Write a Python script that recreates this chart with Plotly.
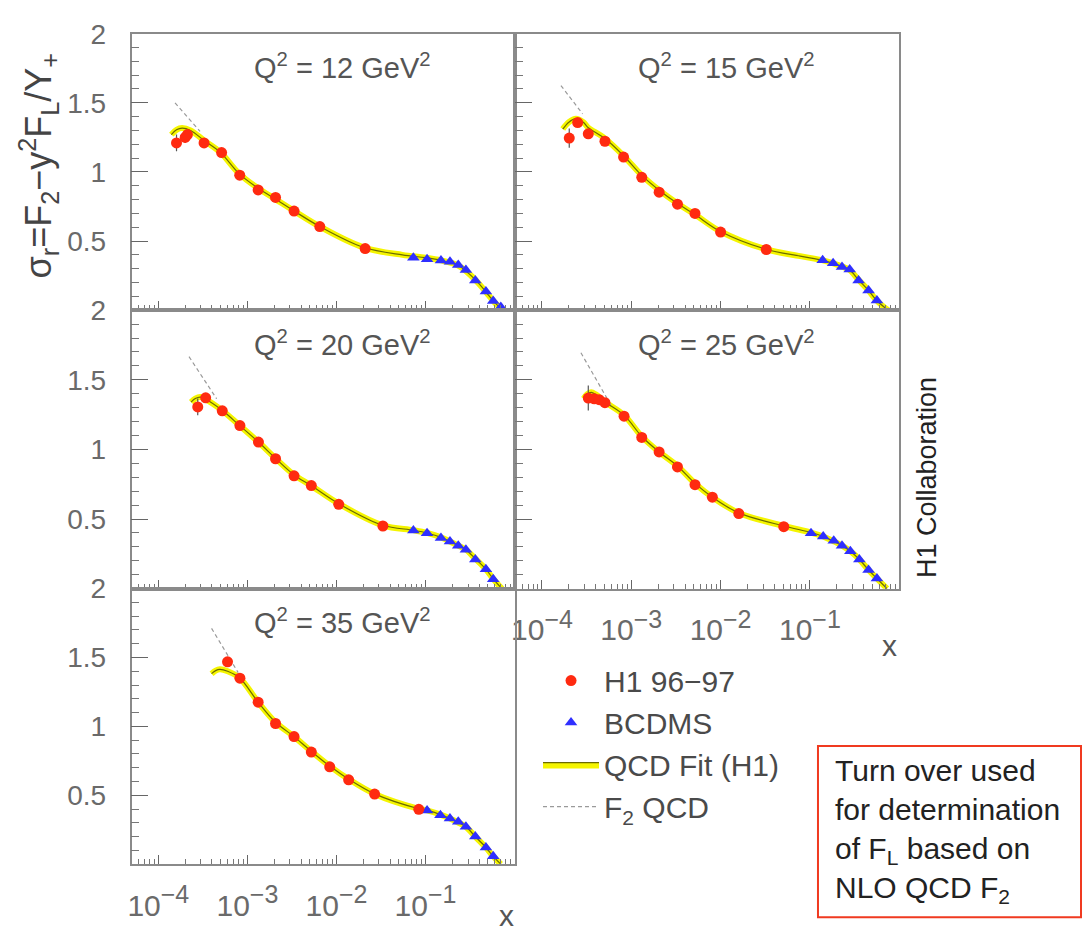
import plotly.graph_objects as go

W, H = 1083, 935
FONT = "Liberation Sans, Arial, Helvetica, sans-serif"

# ---------------- data: Q^2 = 12 GeV^2 ----------------
h1_x_q12 = [1.60e-4, 2.00e-4, 2.12e-4, 3.26e-4, 5.13e-4, 8.2e-4, 1.32e-3, 2.07e-3, 3.34e-3, 6.5e-3, 2.1e-2]
h1_y_q12 = [1.21, 1.25, 1.27, 1.21, 1.14, 0.977, 0.87, 0.816, 0.717, 0.605, 0.446]
h1_e_q12 = [0.06, 0.04, 0.03, 0.02, 0.02, 0.02, 0.02, 0.02, 0.02, 0.02, 0.02]
bc_x_q12 = [0.073, 0.104, 0.149, 0.188, 0.233, 0.284, 0.362, 0.476, 0.575, 0.70]
bc_y_q12 = [0.38, 0.368, 0.36, 0.351, 0.327, 0.29, 0.214, 0.135, 0.066, 0.023]
fit_x_q12 = [1.40e-4, 1.60e-4, 1.85e-4, 2.3e-4, 3.3e-4, 5.0e-4, 8.0e-4, 1.3e-3, 2.1e-3, 3.3e-3,
             6.5e-3, 2.0e-2, 5.5e-2, 0.10, 0.15, 0.23, 0.30, 0.40, 0.50, 0.60, 0.74]
fit_y_q12 = [1.27, 1.305, 1.317, 1.30, 1.225, 1.14, 0.99, 0.885, 0.80, 0.72,
             0.605, 0.455, 0.40, 0.38, 0.36, 0.325, 0.27, 0.19, 0.115, 0.055, 0.0]
f2_x_q12 = [1.54e-4, 2.94e-4]
f2_y_q12 = [1.50, 1.293]

# ---------------- data: Q^2 = 15 GeV^2 ----------------
h1_x_q15 = [2.02e-4, 2.51e-4, 3.3e-4, 5.07e-4, 8.2e-4, 1.31e-3, 2.05e-3, 3.29e-3, 5.17e-3, 1.0e-2, 3.25e-2]
h1_y_q15 = [1.245, 1.357, 1.276, 1.222, 1.108, 0.961, 0.854, 0.767, 0.70, 0.565, 0.439]
h1_e_q15 = [0.07, 0.03, 0.03, 0.02, 0.02, 0.02, 0.02, 0.02, 0.02, 0.02, 0.02]
bc_x_q15 = [0.139, 0.182, 0.229, 0.279, 0.351, 0.454, 0.563]
bc_y_q15 = [0.361, 0.34, 0.313, 0.294, 0.214, 0.142, 0.071]
fit_x_q15 = [1.71e-4, 2.0e-4, 2.4e-4, 2.9e-4, 3.3e-4, 5.0e-4, 8.2e-4, 1.31e-3, 2.05e-3, 3.3e-3, 5.2e-3,
             1.0e-2, 3.2e-2, 7.8e-2, 0.14, 0.18, 0.23, 0.28, 0.35, 0.45, 0.56, 0.75]
fit_y_q15 = [1.31, 1.36, 1.385, 1.36, 1.32, 1.245, 1.117, 0.975, 0.868, 0.771, 0.69,
             0.569, 0.441, 0.391, 0.36, 0.34, 0.315, 0.29, 0.22, 0.145, 0.07, 0.0]
f2_x_q15 = [1.63e-4, 2.85e-4]
f2_y_q15 = [1.625, 1.42]

# ---------------- data: Q^2 = 20 GeV^2 ----------------
h1_x_q20 = [2.77e-4, 3.40e-4, 5.22e-4, 8.24e-4, 1.33e-3, 2.07e-3, 3.34e-3, 5.22e-3, 1.06e-2, 3.32e-2]
h1_y_q20 = [1.305, 1.371, 1.277, 1.171, 1.053, 0.933, 0.81, 0.74, 0.606, 0.45]
h1_e_q20 = [0.06, 0.03, 0.02, 0.02, 0.02, 0.02, 0.02, 0.02, 0.02, 0.02]
bc_x_q20 = [0.073, 0.104, 0.149, 0.188, 0.233, 0.284, 0.362, 0.476, 0.575]
bc_y_q20 = [0.417, 0.398, 0.363, 0.339, 0.309, 0.28, 0.21, 0.139, 0.068]
fit_x_q20 = [2.33e-4, 2.6e-4, 2.95e-4, 3.4e-4, 5.2e-4, 8.2e-4, 1.33e-3, 2.07e-3, 3.34e-3, 5.2e-3, 1.06e-2,
             3.3e-2, 7.3e-2, 0.104, 0.149, 0.188, 0.233, 0.284, 0.362, 0.476, 0.575, 0.72]
fit_y_q20 = [1.34, 1.365, 1.376, 1.36, 1.281, 1.171, 1.053, 0.936, 0.817, 0.74, 0.61,
             0.455, 0.42, 0.40, 0.368, 0.339, 0.309, 0.28, 0.215, 0.14, 0.07, 0.0]
f2_x_q20 = [2.21e-4, 4.51e-4]
f2_y_q20 = [1.666, 1.364]

# ---------------- data: Q^2 = 25 GeV^2 ----------------
h1_x_q25 = [3.30e-4, 3.85e-4, 4.37e-4, 5.07e-4, 8.3e-4, 1.31e-3, 2.05e-3, 3.29e-3, 5.17e-3, 8.09e-3, 1.60e-2, 5.1e-2]
h1_y_q25 = [1.369, 1.364, 1.357, 1.336, 1.239, 1.086, 0.982, 0.874, 0.747, 0.657, 0.539, 0.445]
h1_e_q25 = [0.09, 0.03, 0.03, 0.02, 0.02, 0.02, 0.02, 0.02, 0.02, 0.02, 0.02, 0.02]
bc_x_q25 = [0.103, 0.141, 0.185, 0.229, 0.284, 0.358, 0.454, 0.563]
bc_y_q25 = [0.398, 0.375, 0.344, 0.309, 0.269, 0.21, 0.134, 0.073]
fit_x_q25 = [2.93e-4, 3.2e-4, 3.55e-4, 4.0e-4, 5.07e-4, 8.3e-4, 1.31e-3, 2.05e-3, 3.29e-3, 5.17e-3, 8.1e-3,
             1.6e-2, 5.1e-2, 0.103, 0.141, 0.185, 0.229, 0.284, 0.358, 0.454, 0.563, 0.73]
fit_y_q25 = [1.364, 1.395, 1.41, 1.395, 1.341, 1.246, 1.093, 0.982, 0.881, 0.756, 0.657,
             0.544, 0.45, 0.403, 0.375, 0.34, 0.309, 0.269, 0.21, 0.134, 0.073, 0.0]
f2_x_q25 = [2.73e-4, 5.92e-4]
f2_y_q25 = [1.694, 1.317]

# ---------------- data: Q^2 = 35 GeV^2 ----------------
h1_x_q35 = [5.98e-4, 8.24e-4, 1.32e-3, 2.07e-3, 3.34e-3, 5.22e-3, 8.4e-3, 1.37e-2, 2.68e-2, 8.4e-2]
h1_y_q35 = [1.469, 1.35, 1.176, 1.021, 0.926, 0.814, 0.707, 0.612, 0.509, 0.398]
h1_e_q35 = [0.03, 0.02, 0.02, 0.02, 0.02, 0.02, 0.02, 0.02, 0.02, 0.02]
bc_x_q35 = [0.104, 0.147, 0.188, 0.233, 0.284, 0.362, 0.476, 0.575]
bc_y_q35 = [0.39, 0.355, 0.331, 0.307, 0.271, 0.20, 0.121, 0.057]
fit_x_q35 = [3.96e-4, 4.4e-4, 4.9e-4, 6.0e-4, 8.24e-4, 1.32e-3, 2.07e-3, 3.34e-3, 5.22e-3, 8.4e-3, 1.37e-2,
             2.68e-2, 8.4e-2, 0.104, 0.147, 0.188, 0.233, 0.284, 0.362, 0.476, 0.575, 0.70]
fit_y_q35 = [1.383, 1.405, 1.414, 1.40, 1.35, 1.176, 1.03, 0.926, 0.819, 0.712, 0.617,
             0.51, 0.402, 0.39, 0.36, 0.331, 0.302, 0.271, 0.20, 0.121, 0.057, 0.0]
f2_x_q35 = [3.96e-4, 7.88e-4]
f2_y_q35 = [1.712, 1.39]

q2_labels = ["12", "15", "20", "25", "35"]
x_tick_vals = [1e-4, 1e-3, 1e-2, 1e-1]
x_tick_exps = ["\u22124", "\u22123", "\u22122", "\u22121"]
y_tick_vals = [0.5, 1.0, 1.5, 2.0]
y_tick_text = ["0.5", "1", "1.5", "2"]

# decade labels with a slightly enlarged exponent
x_tick_text = ['10<sup><span style="font-size:25px">' + e + '</span></sup>' for e in x_tick_exps]

panels = [
    (h1_x_q12, h1_y_q12, h1_e_q12, bc_x_q12, bc_y_q12, fit_x_q12, fit_y_q12, f2_x_q12, f2_y_q12),
    (h1_x_q15, h1_y_q15, h1_e_q15, bc_x_q15, bc_y_q15, fit_x_q15, fit_y_q15, f2_x_q15, f2_y_q15),
    (h1_x_q20, h1_y_q20, h1_e_q20, bc_x_q20, bc_y_q20, fit_x_q20, fit_y_q20, f2_x_q20, f2_y_q20),
    (h1_x_q25, h1_y_q25, h1_e_q25, bc_x_q25, bc_y_q25, fit_x_q25, fit_y_q25, f2_x_q25, f2_y_q25),
    (h1_x_q35, h1_y_q35, h1_e_q35, bc_x_q35, bc_y_q35, fit_x_q35, fit_y_q35, f2_x_q35, f2_y_q35),
]

# ---------------- layout geometry (pixels) ----------------
col_px = [(128, 512.5), (513, 898.5)]
row_px = [(19, 300), (300, 583), (583, 863)]
panel_pos = [(0, 0), (0, 1), (1, 0), (1, 1), (2, 0)]   # (row, col)


def fx(px):
    return px / W


def fy(py):
    return 1 - py / H


RED = "#ff2a10"
BLUE = "#2f2fff"
YELLOW = "#f5f500"
OLIVE = "#6b6b00"
AXIS = "#8a8a8a"
TXT = "#555555"

fig = go.Figure()
layout_axes = {}
annotations = []

for i, (hx, hy, he, bx, by, fxs, fys, f2x, f2y) in enumerate(panels):
    n = "" if i == 0 else str(i + 1)
    xa, ya = "x" + n, "y" + n
    first = i == 0
    # fit band (broad yellow stroke)
    fig.add_trace(go.Scatter(
        x=fxs, y=fys, xaxis=xa, yaxis=ya, mode="lines",
        line=dict(color=YELLOW, width=6, shape="spline"),
        showlegend=False, legendgroup="fit", hoverinfo="skip"))
    # fit central value
    fig.add_trace(go.Scatter(
        x=fxs, y=fys, xaxis=xa, yaxis=ya, mode="lines",
        line=dict(color=OLIVE, width=1.2, shape="spline"),
        fill="tonexty", fillcolor=YELLOW,
        name="QCD Fit (H1)", legendgroup="fit", legendrank=3, showlegend=first))
    # F2 QCD (dashed)
    fig.add_trace(go.Scatter(
        x=f2x, y=f2y, xaxis=xa, yaxis=ya, mode="lines",
        line=dict(color="#9a9a9a", width=1.2, dash="4px,3px"),
        name="F<sub>2</sub> QCD", legendgroup="f2", legendrank=4, showlegend=first))
    # BCDMS
    fig.add_trace(go.Scatter(
        x=bx, y=by, xaxis=xa, yaxis=ya, mode="markers",
        marker=dict(symbol="triangle-up", size=11, color=BLUE),
        name="BCDMS", legendgroup="bcdms", legendrank=2, showlegend=first))
    # H1 96-97
    fig.add_trace(go.Scatter(
        x=hx, y=hy, xaxis=xa, yaxis=ya, mode="markers",
        marker=dict(symbol="circle", size=11, color=RED),
        error_y=dict(type="data", array=he, color="#555555", thickness=1.2, width=0),
        name="H1 96\u221297", legendgroup="h1", legendrank=1, showlegend=first))

    r, c = panel_pos[i]
    x0, x1 = col_px[c]
    y0, y1 = row_px[r]
    show_x_labels = (i == 4) or (i == 3)
    show_y_labels = c == 0
    layout_axes["xaxis" + n] = dict(
        domain=[fx(x0), fx(x1)], anchor=ya, type="log", range=[-4.301, 0.0],
        showline=True, mirror=True, linecolor=AXIS, linewidth=1.5,
        showgrid=False, zeroline=False,
        tickmode="array", tickvals=x_tick_vals, ticktext=x_tick_text,
        ticks="inside", ticklen=9, tickwidth=1.2, tickcolor="#666666",
        minor=dict(ticks="inside", ticklen=5, tickwidth=1, tickcolor="#777777", dtick="D1", showgrid=False),
        showticklabels=show_x_labels, ticklabelstandoff=14,
        tickfont=dict(family=FONT, size=30, color="#6a6a6a"),
    )
    layout_axes["yaxis" + n] = dict(
        domain=[fy(y1), fy(y0)], anchor=xa, range=[0, 2],
        showline=True, mirror=True, linecolor=AXIS, linewidth=1.5,
        showgrid=False, zeroline=False,
        tickmode="array", tickvals=y_tick_vals, ticktext=y_tick_text,
        ticks="inside", ticklen=17, tickwidth=1.2, tickcolor="#666666",
        minor=dict(ticks="inside", ticklen=8, tickwidth=1, tickcolor="#777777",
                   tickmode="linear", tick0=0, dtick=0.1, showgrid=False),
        showticklabels=show_y_labels, ticklabelstandoff=18,
        tickfont=dict(family=FONT, size=28, color="#6a6a6a"),
    )
    annotations.append(dict(
        xref="paper", yref="paper", x=fx(x0 + 0.55 * (x1 - x0)), y=fy(y0 + 33),
        text="Q<sup>2</sup> = " + q2_labels[i] + " GeV<sup>2</sup>", showarrow=False,
        font=dict(family=FONT, size=29, color=TXT), xanchor="center", yanchor="middle"))

# axis titles and side texts
annotations += [
    dict(xref="paper", yref="paper", x=fx(504), y=fy(934), text="x", showarrow=False,
         font=dict(family=FONT, size=30, color=TXT), xanchor="center", yanchor="bottom"),
    dict(xref="paper", yref="paper", x=fx(889), y=fy(641), text="x", showarrow=False,
         font=dict(family=FONT, size=30, color=TXT), xanchor="center", yanchor="middle"),
    dict(xref="paper", yref="paper", x=fx(35), y=fy(153), textangle=-90,
         text="\u03c3<sub>r</sub>=F<sub>2</sub>\u2212y<sup>2</sup>F<sub>L</sub>/Y<sub>+</sub>",
         showarrow=False, font=dict(family=FONT, size=36, color="#444444"),
         xanchor="center", yanchor="middle"),
    dict(xref="paper", yref="paper", x=fx(927), y=fy(470), textangle=-90,
         text="H1 Collaboration", showarrow=False,
         font=dict(family=FONT, size=27, color="#222222"), xanchor="center", yanchor="middle"),
    dict(xref="paper", yref="paper", x=fx(832), y=fy(829),
         text="Turn over used<br>for determination<br>of F<sub>L</sub> based on<br>NLO QCD F<sub>2</sub>",
         showarrow=False, align="left", font=dict(family=FONT, size=30, color="#222222"),
         xanchor="left", yanchor="middle"),
]

shapes = [dict(type="rect", xref="paper", yref="paper",
               x0=fx(817), x1=fx(1081), y0=fy(917), y1=fy(743),
               line=dict(color="#f03a20", width=2), fillcolor="rgba(0,0,0,0)")]

fig.update_layout(
    width=W, height=H, margin=dict(l=0, r=0, t=0, b=0),
    paper_bgcolor="white", plot_bgcolor="white",
    font=dict(family=FONT, color=TXT),
    annotations=annotations, shapes=shapes,
    legend=dict(x=fx(536), y=fy(650), xanchor="left", yanchor="top",
                font=dict(family=FONT, size=30, color="#4a4a4a"),
                bgcolor="rgba(0,0,0,0)", itemwidth=56, tracegroupgap=0,
                traceorder="grouped"),
    **layout_axes,
)

fig.write_html("out.html")
